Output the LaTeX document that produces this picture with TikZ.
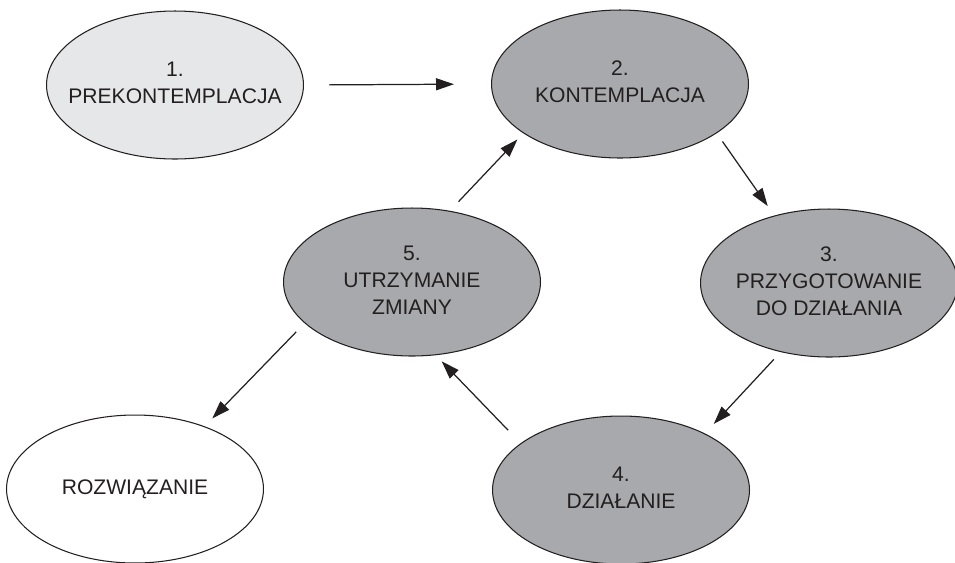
\documentclass[tikz,border=0pt]{standalone}
\usepackage{fontspec}
\setmainfont{Liberation Sans}
\usepackage{tikz}
\usetikzlibrary{shapes.geometric}
\usetikzlibrary{arrows.meta}

\definecolor{stagegray}{RGB}{167,169,172}
\definecolor{stagelight}{RGB}{230,231,232}
\definecolor{ink}{RGB}{35,31,32}

\begin{document}
\begin{tikzpicture}[
                x = 0.02cm,
                y = -0.02cm,
                stage/.style = {
                    draw = ink,
                    ellipse,
                    fill = #1,
                    minimum width = 5.14cm,
                    minimum height = 2.96cm,
                    inner sep = 0pt,
                    line width = 0.6pt,
                    text = ink,
                    font = \fontsize{12}{15.3}\selectfont
                },
                stage/.default = stagegray,
                link/.style = {
                    draw = ink,
                    line width = 0.7pt,
                    -{Triangle[length=0.36cm, width=0.24cm]}
                }
            ]

            % \useasboundingbox (0,0) rectangle (955,562);
            \clip (0,0) rectangle (955,562);

            \node[stage=stagelight] (1) at (175,85) {\makebox[0pt]{\begin{tabular}{c}1.\\PREKONTEMPLACJA\end{tabular}}};
            \node[stage] (2) at (620,84) {\makebox[0pt]{\begin{tabular}{c}2.\\KONTEMPLACJA\end{tabular}}};
            \node[stage] (3) at (829,283) {\makebox[0pt]{\begin{tabular}{c}3.\\PRZYGOTOWANIE\\DO DZIAŁANIA\end{tabular}}};
            \node[stage] (4) at (621,490) {\makebox[0pt]{\begin{tabular}{c}4.\\DZIAŁANIE\end{tabular}}};
            \node[stage] (5) at (412,282) {\makebox[0pt]{\begin{tabular}{c}5.\\UTRZYMANIE\\ZMIANY\end{tabular}}};

            \node[stage=white] (r) at (135,489) {ROZWIĄZANIE};



            \draw[link, shorten <=0.5cm, shorten >=0.74cm] (1.east) -- (2.west);
            \draw[link, shorten <=0.2cm, shorten >=0.23cm] (2.-27) -- (3.129);
            \draw[link, shorten <=0.2cm, shorten >=0.26cm] (3.-125) -- (4.34);
            \draw[link, shorten <=0.36cm, shorten >=0.17cm] (4.155) -- (5.-72);
            \draw[link, shorten <=0.25cm, shorten >=0.17cm] (5.62) -- (2.-153);
            \draw[link, shorten <=0.24cm, shorten >=0.22cm] (5.-159) -- (r.42);

\end{tikzpicture}
\end{document}
